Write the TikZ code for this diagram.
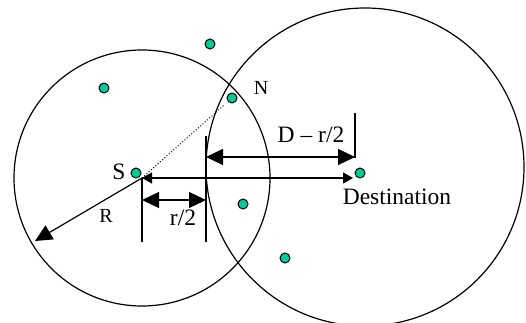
\documentclass[tikz,border=0pt]{standalone}
\usepackage{fontspec}
\setmainfont{Liberation Serif}
\usetikzlibrary{arrows.meta}
\definecolor{nodegreen}{RGB}{0,204,153}
\tikzset{
  dot/.style={circle,draw=black,fill=nodegreen,line width=1pt,minimum size=10pt,inner sep=0pt},
  big/.style={font=\fontsize{23.5}{27}\selectfont},
  small/.style={font=\fontsize{20}{24}\selectfont},
  bigtip/.style={arrows={Triangle[length=17pt,width=16pt]-Triangle[length=17pt,width=16pt]}},
  thintip/.style={arrows={Triangle[length=10pt,width=11pt]-Triangle[length=10pt,width=11pt]}}
}

\begin{document}
\begin{tikzpicture}[x=1pt,y=-1pt,line width=1.2pt]
  \useasboundingbox (0,0) rectangle (526,323);
  % reichweiten der beiden knoten
  \coordinate (o) at (142,178);
  \draw (o) circle(128);
  \draw (365,167) circle(159);
  % knoten
  \node[dot] (s) at (136,173) {};
  \node[dot] (n) at (232,98) {};
  \node[dot] (dest) at (360,173) {};
  \foreach \p [count=\i] in {(210,44),(104,88),(243,204),(285,258)}
    \node[dot] (k\i) at \p {};
  % hilfslinien
  \coordinate (a1) at (142,242); \coordinate (b0) at (206,136); \coordinate (b1) at (206,242);
  \coordinate (c0) at (355,113); \coordinate (c1) at (355,158);
  \draw (o) -- (a1); \draw (b0) -- (b1); \draw (c0) -- (c1);
  % masspfeile
  \coordinate (r0) at (142,200); \coordinate (r1) at (206,200);
  \coordinate (d0) at (206,157); \coordinate (d1) at (355,157);
  \coordinate (e1) at (353,178); \coordinate (rr) at (35,241);
  \draw[bigtip] (r0) -- (r1);
  \draw[bigtip] (d0) -- (d1);
  \draw[thintip] (o) -- (e1);
  \draw[-{Triangle[length=17pt,width=16pt]}] (o) -- (rr);
  \draw[dotted,line width=1pt,shorten >=5pt] (o) -- (n);
  % beschriftungen
  \node[big] (ls) at (119,172) {S};
  \node[small] (ln) at (261,88) {N};
  \node[small] (lr) at (106,216) {R};
  \node[big] (lhalf) at (183,218) {r/2};
  \node[big] (ld) at (311,135) {D -- r/2};
  \node[big] (ldest) at (397,197) {Destination};
\end{tikzpicture}
\end{document}
